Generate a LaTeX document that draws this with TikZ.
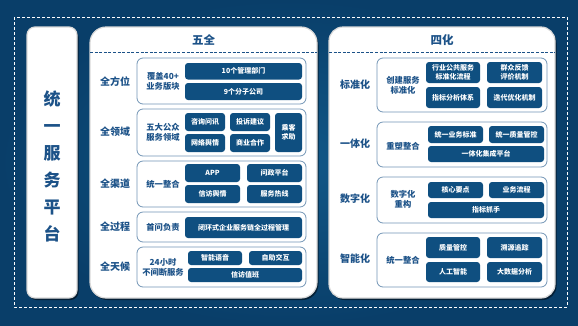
\documentclass[tikz,border=0pt]{standalone}
\usepackage{fontspec}
\setmainfont{Noto Sans CJK SC}
\usetikzlibrary{shadows}
\definecolor{bgin}{HTML}{115888}
\definecolor{bgout}{HTML}{093E69}
\definecolor{boxblue}{HTML}{0F4F80}
\definecolor{txtblue}{HTML}{1C5288}
\definecolor{linecol}{HTML}{7396B6}
\tikzset{
  dbox/.style={fill=boxblue, rounded corners=3pt, text=white, inner sep=1pt,
    font=\bfseries\fontsize{7}{8.5}\selectfont, align=center},
  obox/.style={draw=linecol, line width=0.8pt, rounded corners=6pt, fill=white},
  rowlab/.style={text=txtblue, font=\bfseries\fontsize{10}{12}\selectfont},
  sublab/.style={text=txtblue, font=\bfseries\fontsize{8.3}{10}\selectfont, align=center},
  ttl/.style={text=txtblue, font=\bfseries\fontsize{11.5}{13}\selectfont},
  panel/.style={fill=white, draw=black!15, line width=1.2pt,
    drop shadow={shadow xshift=1.5pt, shadow yshift=-2pt, opacity=0.5, fill=black}},
  bluedash/.style={draw=txtblue, line width=1pt, dash pattern=on 3pt off 1.6pt},
}
\newcommand\bx[7]{\node[#7, minimum width={(#4-#2)*1pt}, minimum height={(#5-#3)*1pt}] (#1) at ({(#2+#4)/2},{(#3+#5)/2}) {#6};}
\begin{document}
\begin{tikzpicture}[x=1pt,y=-1pt]
\useasboundingbox (0,0) rectangle (578,325);
\shade[inner color=bgin, outer color=bgout] (0,0) rectangle (578,325);
\draw[white, line width=0.8pt, dash pattern=on 3pt off 2pt] (14,17) rectangle (567,307);
% left panel
\node[panel, rounded corners=8pt, minimum width=50pt, minimum height=271pt, inner sep=0pt] (lp) at (52,162.5) {};
\node[text=txtblue, font=\bfseries\fontsize{17}{27}\selectfont, align=center] (lptxt) at (52,166) {统\\一\\服\\务\\平\\台};
% panel 1
\node[panel, rounded corners=16pt, minimum width=227pt, minimum height=271pt, inner sep=0pt] (p1) at (203.5,162.5) {};
\node[ttl] (t1) at (203.5,40) {五全};
\draw[bluedash] (90,52) -- (317,52);
% panel 2
\node[panel, rounded corners=14pt, minimum width=226pt, minimum height=271pt, inner sep=0pt] (p2) at (442,162.5) {};
\node[ttl] (t2) at (442,40) {四化};
\draw[bluedash] (329,52) -- (555,52);

% ---- 五全 rows
\bx{r1}{137}{58}{306}{104}{}{obox}
\node[rowlab] (l1) at (115,82) {全方位};
\node[sublab] (s1) at (163,81) {覆盖40+\\业务版块};
\bx{a11}{185}{63}{302}{79.5}{10个管理部门}{dbox}
\bx{a12}{185}{83}{302}{100}{9个分子公司}{dbox}

\bx{r2}{137}{109}{306}{156}{}{obox}
\node[rowlab] (l2) at (115,132) {全领域};
\node[sublab] (s2) at (163,132) {五大公众\\服务领域};
\bx{a21}{185}{113}{225}{131}{咨询问讯}{dbox}
\bx{a22}{230}{113}{270}{131}{投诉建议}{dbox}
\bx{a23}{185}{134}{225}{152}{网络舆情}{dbox}
\bx{a24}{230}{134}{270}{152}{商业合作}{dbox}
\bx{a25}{275}{113}{302}{152}{乘客\\求助}{dbox}

\bx{r3}{137}{161}{306}{207}{}{obox}
\node[rowlab] (l3) at (115,184) {全渠道};
\node[sublab] (s3) at (163,184) {统一整合};
\bx{a31}{185}{164}{240}{182}{APP}{dbox}
\bx{a32}{247}{164}{302}{182}{问政平台}{dbox}
\bx{a33}{185}{185}{240}{203}{信访舆情}{dbox}
\bx{a34}{247}{185}{302}{203}{服务热线}{dbox}

\bx{r4}{137}{212}{306}{242}{}{obox}
\node[rowlab] (l4) at (115,227) {全过程};
\node[sublab] (s4) at (163,227) {首问负责};
\bx{a41}{185}{217}{302}{238}{闭环式企业服务链全过程管理}{dbox}

\bx{r5}{137}{247}{306}{287}{}{obox}
\node[rowlab] (l5) at (115,267) {全天候};
\node[sublab] (s5) at (163,267) {24小时\\不间断服务};
\bx{a51}{188}{251}{242}{265}{智能语音}{dbox}
\bx{a52}{249}{251}{302}{265}{自助交互}{dbox}
\bx{a53}{188}{268}{302}{282}{信访值班}{dbox}

% ---- 四化 rows
\bx{q1}{377}{58}{547}{112}{}{obox}
\node[rowlab] (m1) at (355,85) {标准化};
\node[sublab] (u1) at (403,85) {创建服务\\标准化};
\bx{b11}{426}{62}{480}{83}{行业公共服务\\标准化流程}{dbox}
\bx{b12}{487}{62}{542}{83}{群众反馈\\评价机制}{dbox}
\bx{b13}{426}{87}{480}{108}{指标分析体系}{dbox}
\bx{b14}{487}{87}{542}{108}{迭代优化机制}{dbox}

\bx{q2}{377}{122}{547}{167}{}{obox}
\node[rowlab] (m2) at (355,144) {一体化};
\node[sublab] (u2) at (403,146) {重塑整合};
\bx{b21}{428}{126}{483}{143}{统一业务标准}{dbox}
\bx{b22}{489}{126}{544}{143}{统一质量管控}{dbox}
\bx{b23}{428}{146}{544}{162}{一体化集成平台}{dbox}

\bx{q3}{377}{177}{547}{223}{}{obox}
\node[rowlab] (m3) at (355,199) {数字化};
\node[sublab] (u3) at (403,199) {数字化\\重构};
\bx{b31}{428}{182}{483}{198}{核心要点}{dbox}
\bx{b32}{489}{182}{544}{198}{业务流程}{dbox}
\bx{b33}{428}{202}{544}{218}{指标抓手}{dbox}

\bx{q4}{377}{233}{547}{287}{}{obox}
\node[rowlab] (m4) at (355,259) {智能化};
\node[sublab] (u4) at (403,260) {统一整合};
\bx{b41}{426}{237}{480}{258}{质量管控}{dbox}
\bx{b42}{487}{237}{542}{258}{溯源追踪}{dbox}
\bx{b43}{426}{262}{480}{282}{人工智能}{dbox}
\bx{b44}{487}{262}{542}{282}{大数据分析}{dbox}
\end{tikzpicture}
\end{document}
